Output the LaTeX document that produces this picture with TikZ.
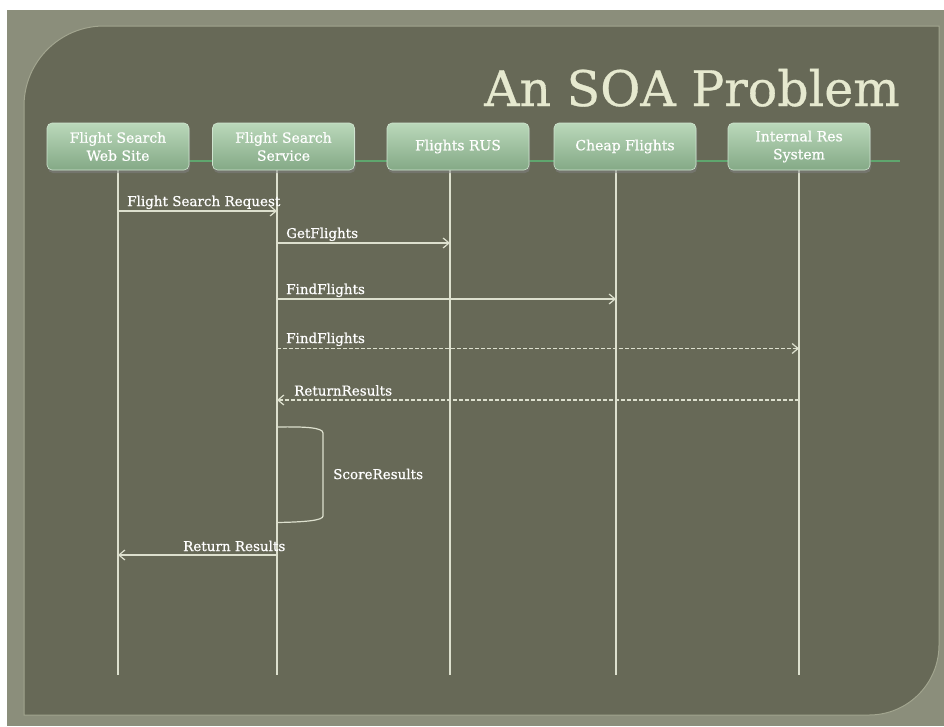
\documentclass[tikz,border=0pt]{standalone}
\usepackage{fontspec}
\setmainfont{DejaVu Serif}
\newfontfamily\slabfont[FakeBold=0.6]{DejaVu Serif}
\usetikzlibrary{arrows.meta,shadows}

\definecolor{pagebg}{HTML}{8B8E7B}
\definecolor{panelbg}{HTML}{676957}
\definecolor{paneledge}{HTML}{A2A58F}
\definecolor{boxtop}{HTML}{BAD8BA}
\definecolor{boxbot}{HTML}{84A986}
\definecolor{railgreen}{HTML}{5FA66E}
\definecolor{linecol}{HTML}{DDE0CE}
\definecolor{titlecol}{HTML}{E6E9CF}

\tikzset{
  actor/.style={rounded corners=5pt,top color=boxtop,bottom color=boxbot,
    draw=boxtop!70!white,line width=0.6pt,minimum width=142pt,minimum height=47pt,
    align=center,text=white,font=\slabfont\fontsize{14}{18}\selectfont,
    drop shadow={shadow xshift=1pt,shadow yshift=-3pt,opacity=0.55}},
  lifeline/.style={draw=linecol,line width=1.3pt},
  msg/.style={draw=linecol,line width=1.2pt,-{Straight Barb[length=6pt,width=10pt]}},
  reply/.style={msg,dash pattern=on 4pt off 2pt},
  msglabel/.style={anchor=base west,inner sep=0pt,text=white,font=\slabfont\fontsize{13.5}{16}\selectfont},
  heading/.style={anchor=base east,inner sep=0pt,text=titlecol,font=\slabfont\fontsize{49}{55}\selectfont}
}

\begin{document}
\begin{tikzpicture}[x=1pt,y=-1pt]
  \useasboundingbox (0,0) rectangle (944,726);
  % slide background
  \fill[white] (0,0) rectangle (944,726);
  \fill[pagebg] (7,10) rectangle (944,726);
  \fill[panelbg,draw=paneledge,line width=1pt] (24,715) -- (24,106) .. controls (24,61.8) and (59.8,26) .. (104,26)
    -- (939,26) -- (939,645) .. controls (939,683.7) and (907.7,715) .. (869,715) -- cycle;

  \node[heading] (title) at (900,106) {An SOA Problem};

  % rail behind the boxes
  \coordinate (rail0) at (189,161);
  \coordinate (rail1) at (900,161);
  \draw[railgreen,line width=1.2pt] (rail0) -- (rail1);

  % lifelines
  \foreach \n/\x in {web/118,svc/277,rus/450,cheap/616,res/799}{
    \coordinate (\n-top) at (\x,168);
    \coordinate (\n-bot) at (\x,675);
    \draw[lifeline] (\n-top) -- (\n-bot);
  }

  % participants
  \node[actor] (web) at (118,146.5) {Flight Search\\Web Site};
  \node[actor] (svc) at (283.5,146.5) {Flight Search\\Service};
  \node[actor] (rus) at (458,146.5) {Flights RUS};
  \node[actor] (cheap) at (625,146.5) {Cheap Flights};
  \node[actor] (res) at (799,146.5) {Internal Res\\System};

  % messages
  \coordinate (m1) at (0,211);
  \coordinate (m2) at (0,243);
  \coordinate (m3) at (0,299);
  \coordinate (m4) at (0,348.5);
  \coordinate (m5) at (0,400);
  \coordinate (m6) at (0,555);
  \draw[msg] (web-top |- m1) -- (svc-top |- m1);
  \draw[msg] (svc-top |- m2) -- (rus-top |- m2);
  \draw[msg] (svc-top |- m3) -- (cheap-top |- m3);
  \draw[reply] (svc-top |- m4) -- (res-top |- m4);
  \draw[reply] (res-top |- m5) -- (svc-top |- m5);
  \draw[msg] (svc-top |- m6) -- (web-top |- m6);

  \node[msglabel] (req) at (127,206) {Flight Search Request};
  \node[msglabel] (get) at (286,238) {GetFlights};
  \node[msglabel] (find) at (286,294) {FindFlights};
  \node[msglabel] (findres) at (286,343) {FindFlights};
  \node[msglabel] (ret) at (294,395.5) {ReturnResults};
  \node[msglabel] (back) at (183,551) {Return Results};

  % self call
  \coordinate (s1) at (0,427);
  \coordinate (s2) at (0,522.5);
  \draw[lifeline,line width=1.2pt] (svc-top |- s1) .. controls (305,426.5) and (323,427.5) .. (323,433)
    -- (323,516) .. controls (323,520.5) and (305,522) .. (svc-top |- s2);
  \node[msglabel,anchor=west] (score) at (333,474) {ScoreResults};
\end{tikzpicture}
\end{document}
